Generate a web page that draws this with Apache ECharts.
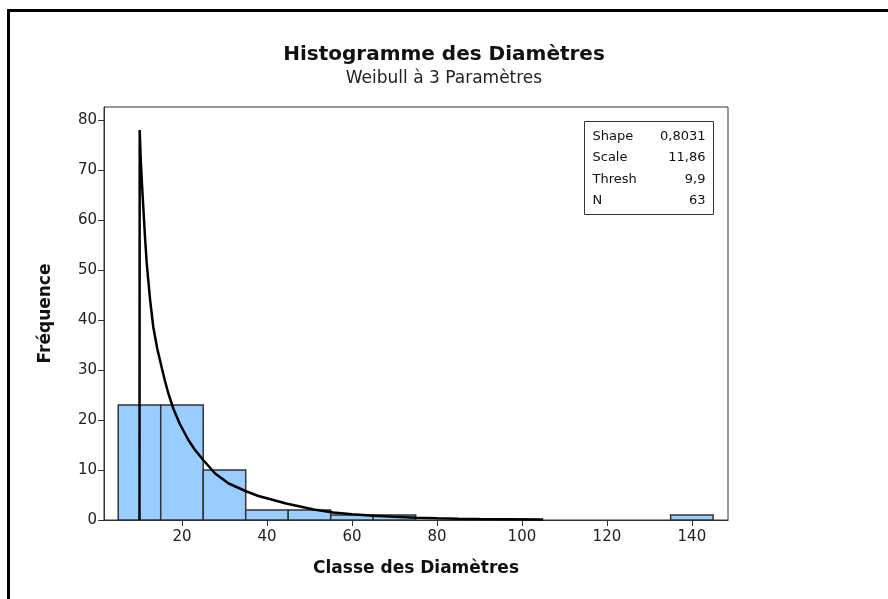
<!DOCTYPE html>
<html>
<head>
<meta charset="utf-8">
<script src="https://cdn.jsdelivr.net/npm/echarts@6/dist/echarts.min.js"></script>
<style>
  html, body { margin: 0; padding: 0; background: #fff; }
  #chart { width: 888px; height: 599px; }
</style>
</head>
<body>
<div id="chart"></div>
<script>
// histogram bins (class width 10)
const binLo = [5, 15, 25, 35, 45, 55, 65, 135];
const binHi = [15, 25, 35, 45, 55, 65, 75, 145];
const counts = [23, 23, 10, 2, 2, 1, 1, 1];

// fitted Weibull curve
const curveX = [10.0, 10.05, 10.3, 10.6, 10.8, 11.3, 11.7, 12.5, 13.25, 14.2, 15.2, 16.0, 16.8, 18.0, 19.5, 21.5, 23.0, 25, 27.8, 31, 35.2, 38, 41.5, 44.5, 47.8, 51, 55.6, 60, 65, 70, 75.2, 80, 85, 90, 97, 105];
const curveY = [0, 78, 72, 67, 64, 56.6, 51.4, 44, 38.6, 34.2, 30.6, 27.8, 25.3, 22.2, 19.2, 16, 14.1, 12, 9.3, 7.3, 5.7, 4.8, 4, 3.3, 2.7, 2.1, 1.5, 1.15, 0.87, 0.64, 0.47, 0.33, 0.26, 0.2, 0.15, 0.1];

const xTicks = [20, 40, 60, 80, 100, 120, 140];
const yTicks = [0, 10, 20, 30, 40, 50, 60, 70, 80];

const paramNames = ['Shape', 'Scale', 'Thresh', 'N'];
const paramValues = ['0,8031', '11,86', '9,9', '63'];

const FONT = 'DejaVu Sans';

const histData = binLo.map((lo, i) => [lo, binHi[i], counts[i]]);
const curveData = curveX.map((x, i) => [x, curveY[i]]);

const tableChildren = [{
  type: 'rect',
  shape: { x: 0, y: 0, width: 129, height: 93 },
  style: { fill: '#fff', stroke: '#333', lineWidth: 1 }
}];
paramNames.forEach((n, i) => {
  tableChildren.push({
    type: 'text', x: 8, y: 15 + i * 21.5,
    style: { text: n, fill: '#111', font: '13px "' + FONT + '"', textVerticalAlign: 'middle' }
  });
  tableChildren.push({
    type: 'text', x: 121, y: 15 + i * 21.5,
    style: { text: paramValues[i], fill: '#111', font: '13px "' + FONT + '"', textAlign: 'right', textVerticalAlign: 'middle' }
  });
});

const chart = echarts.init(document.getElementById('chart'));
chart.setOption({
  backgroundColor: '#fff',
  animation: false,
  title: {
    text: 'Histogramme des Diamètres',
    subtext: 'Weibull à 3 Paramètres',
    left: 'center',
    top: 40,
    itemGap: 5,
    textStyle: { fontFamily: FONT, fontWeight: 'bold', fontSize: 20, color: '#111' },
    subtextStyle: { fontFamily: FONT, fontSize: 17, color: '#222' }
  },
  grid: {
    left: 104, right: 160, top: 107, bottom: 79,
    show: true, borderColor: '#333', borderWidth: 1, backgroundColor: 'transparent'
  },
  xAxis: {
    type: 'value',
    min: 1.65, max: 148.5,
    name: 'Classe des Diamètres',
    nameLocation: 'middle',
    nameGap: 40,
    nameTextStyle: { fontFamily: FONT, fontWeight: 'bold', fontSize: 17, color: '#111' },
    axisLine: { lineStyle: { color: '#333', width: 1 } },
    axisTick: { show: true, length: 6, customValues: xTicks, lineStyle: { color: '#333' } },
    axisLabel: { customValues: xTicks, fontFamily: FONT, fontSize: 15, color: '#222', margin: 10 },
    splitLine: { show: false }
  },
  yAxis: {
    type: 'value',
    min: 0, max: 82.6,
    name: 'Fréquence',
    nameLocation: 'middle',
    nameGap: 50,
    nameTextStyle: { fontFamily: FONT, fontWeight: 'bold', fontSize: 17, color: '#111' },
    axisLine: { show: true, lineStyle: { color: '#333', width: 1 } },
    axisTick: { show: true, length: 6, customValues: yTicks, lineStyle: { color: '#333' } },
    axisLabel: { customValues: yTicks, fontFamily: FONT, fontSize: 15, color: '#222', margin: 7 },
    splitLine: { show: false }
  },
  series: [
    {
      type: 'custom',
      data: histData,
      encode: { x: [0, 1], y: 2 },
      renderItem: function (params, api) {
        const p0 = api.coord([api.value(0), api.value(2)]);
        const p1 = api.coord([api.value(1), 0]);
        return {
          type: 'rect',
          shape: { x: p0[0], y: p0[1], width: p1[0] - p0[0], height: p1[1] - p0[1] },
          style: { fill: '#99ccff', stroke: '#333', lineWidth: 1.5 }
        };
      },
      z: 2
    },
    {
      type: 'line',
      data: curveData,
      showSymbol: false,
      smooth: false,
      lineStyle: { color: '#000', width: 2.5 },
      z: 3
    }
  ],
  graphic: [
    {
      type: 'rect',
      shape: { x: 8.5, y: 10.5, width: 900, height: 620 },
      style: { fill: 'none', stroke: '#000', lineWidth: 3 },
      silent: true
    },
    {
      type: 'group',
      left: 584, top: 121,
      children: tableChildren
    }
  ]
});
</script>
</body>
</html>
